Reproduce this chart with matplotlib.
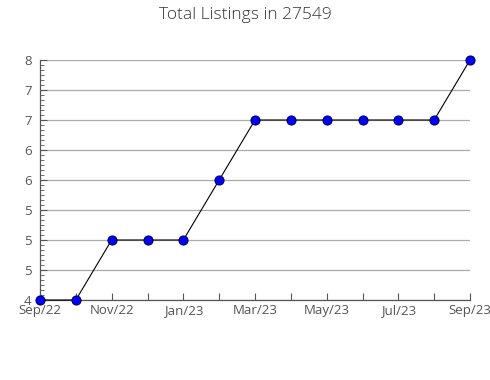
import matplotlib
matplotlib.use("Agg")
import matplotlib.pyplot as plt
from matplotlib.ticker import FixedLocator, MultipleLocator

months = ["Sep/22", "Oct/22", "Nov/22", "Dec/22", "Jan/23", "Feb/23", "Mar/23",
          "Apr/23", "May/23", "Jun/23", "Jul/23", "Aug/23", "Sep/23"]
listings = [4, 4, 5, 5, 5, 6, 7, 7, 7, 7, 7, 7, 8]
ytick_values = [4, 4.5, 5, 5.5, 6, 6.5, 7, 7.5, 8]
ytick_labels = ["4", "5", "5", "5", "6", "6", "7", "7", "8"]

plt.rcParams['font.family'] = ['Open Sans', 'DejaVu Sans']

fig = plt.figure(figsize=(4.9, 3.8), dpi=100)
ax = fig.add_axes([40/490, 80/380, 430/490, 240/380])

x = list(range(len(months)))
ax.plot(x, listings, color='black', lw=0.8, marker='o', markersize=6.5,
        markerfacecolor='#0000ff', markeredgecolor='#000060', markeredgewidth=0.8,
        zorder=3, clip_on=False)

ax.set_xlim(0, len(months) - 1)
ax.set_ylim(4, 8)

ax.yaxis.set_major_locator(FixedLocator(ytick_values))
ax.set_yticklabels(ytick_labels)
ax.yaxis.set_minor_locator(MultipleLocator(0.5/6))
ax.set_xticks(x)
ax.set_xticklabels([m if i % 2 == 0 else "" for i, m in enumerate(months)])

ax.grid(axis='y', which='major', color='#aaaaaa', lw=0.9)
ax.set_axisbelow(True)
for s in ['top', 'right']:
    ax.spines[s].set_visible(False)
for s in ['left', 'bottom']:
    ax.spines[s].set_color('#555555')
    ax.spines[s].set_linewidth(0.9)

ax.tick_params(axis='y', which='major', direction='in', length=5, color='#555555',
               labelcolor='#555555', labelsize=9.5, pad=6)
ax.tick_params(axis='y', which='minor', direction='in', length=3, color='#555555')
ax.tick_params(axis='x', which='major', direction='in', length=5, color='#555555',
               labelcolor='#555555', labelsize=9.5, pad=3)

fig.text(245/490, 1 - 15/380, "Total Listings in 27549", ha='center', va='center',
         fontsize=12.5, fontweight='light', color='#333333')

fig.savefig("out.png", dpi=100)
